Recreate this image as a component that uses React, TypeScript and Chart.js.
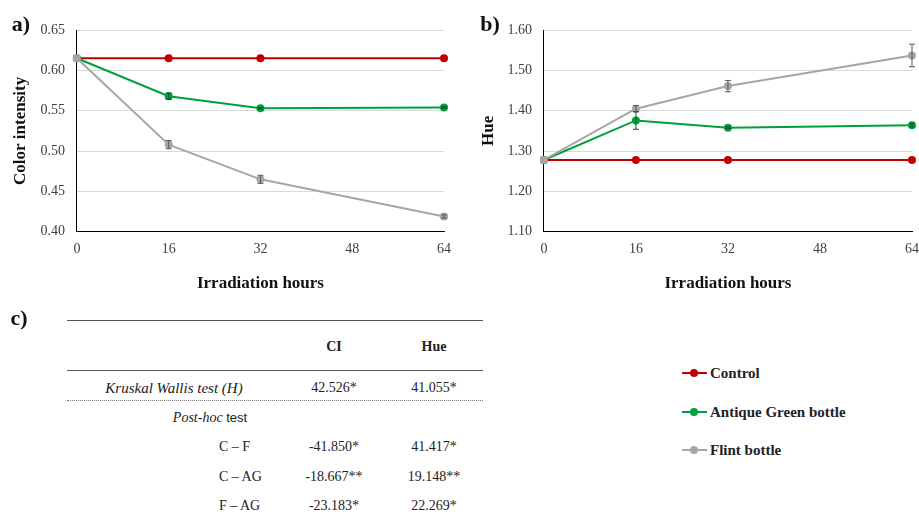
import React, { useEffect, useRef } from "react";
import { Chart, registerables } from "chart.js";

Chart.register(...registerables);

// ---------- data ----------
const hours = [0, 16, 32, 64];
const seriesNames = ["Control", "Antique Green bottle", "Flint bottle"];

const ciControl = [0.615, 0.615, 0.615, 0.615];
const ciGreen = [0.615, 0.568, 0.553, 0.554];
const ciFlint = [0.615, 0.508, 0.465, 0.419];
const ciControlErr = [0, 0, 0, 0];
const ciGreenErr = [0, 0.004, 0.001, 0.001];
const ciFlintErr = [0, 0.005, 0.005, 0.002];

const hueControl = [1.278, 1.278, 1.278, 1.278];
const hueGreen = [1.278, 1.376, 1.358, 1.364];
const hueFlint = [1.278, 1.405, 1.461, 1.537];
const hueControlErr = [0, 0, 0, 0];
const hueGreenErr = [0, 0.022, 0.002, 0.004];
const hueFlintErr = [0, 0.008, 0.014, 0.028];

const tableCols = ["CI", "Hue"];
const kwLabel = "Kruskal Wallis test (H)";
const kwValues = ["42.526*", "41.055*"];
const postHocLabels = ["C \u2013 F", "C \u2013 AG", "F \u2013 AG"];
const postHocCI = ["-41.850*", "-18.667**", "-23.183*"];
const postHocHue = ["41.417*", "19.148**", "22.269*"];

// ---------- styles ----------
const colors = ["#c00000", "#00a03c", "#a6a6a6"];
const errColors = ["#600000", "#005a22", "#595959"];
const SERIF = "'Liberation Serif', 'Times New Roman', serif";

const errorBarPlugin = {
  id: "errorBars",
  afterDatasetsDraw(chart: any) {
    const ctx = chart.ctx;
    const yScale = chart.scales.y;
    chart.data.datasets.forEach((ds: any, di: number) => {
      const errs = ds.errors;
      if (!errs) return;
      const meta = chart.getDatasetMeta(di);
      meta.data.forEach((pt: any, i: number) => {
        const e = errs[i];
        if (!e) return;
        const v = ds.data[i].y;
        const yTop = yScale.getPixelForValue(v + e);
        const yBot = yScale.getPixelForValue(v - e);
        const x = pt.x;
        ctx.save();
        ctx.strokeStyle = ds.errorColor;
        ctx.lineWidth = 1;
        ctx.beginPath();
        ctx.moveTo(x, yTop);
        ctx.lineTo(x, yBot);
        ctx.moveTo(x - 3, yTop);
        ctx.lineTo(x + 3, yTop);
        ctx.moveTo(x - 3, yBot);
        ctx.lineTo(x + 3, yBot);
        ctx.stroke();
        ctx.restore();
      });
    });
  },
};

function makeDatasets(series: number[][], errs: number[][]) {
  return series.map((vals, si) => ({
    label: seriesNames[si],
    data: hours.map((h, i) => ({ x: h, y: vals[i] })),
    errors: errs[si],
    errorColor: errColors[si],
    borderColor: colors[si],
    backgroundColor: colors[si],
    borderWidth: 2,
    pointRadius: 4,
    pointBorderWidth: 0,
    pointBackgroundColor: colors[si],
    tension: 0,
    clip: false,
    order: 2 - si,
  }));
}

function makeOptions(
  yMin: number,
  yMax: number,
  yStep: number,
  yTitle: string,
  pad: any,
  yTitlePad: any
) {
  return {
    responsive: false,
    animation: false,
    layout: { padding: pad },
    plugins: { legend: { display: false }, tooltip: { enabled: false } },
    scales: {
      x: {
        type: "linear",
        min: 0,
        max: 64,
        ticks: {
          stepSize: 16,
          padding: 9,
          color: "#404040",
          font: { family: SERIF, size: 14 },
        },
        grid: { display: true, color: "rgba(0,0,0,0)", drawTicks: false },
        border: { display: true, color: "#000", width: 1 },
        title: {
          display: true,
          text: "Irradiation hours",
          color: "#111",
          font: { family: SERIF, size: 17, weight: "bold" },
          padding: { top: 7, bottom: 4 },
        },
      },
      y: {
        type: "linear",
        min: yMin,
        max: yMax,
        ticks: {
          stepSize: yStep,
          padding: 12,
          color: "#404040",
          font: { family: SERIF, size: 14 },
          callback: (v: any) => Number(v).toFixed(2),
        },
        grid: { color: "#d9d9d9", lineWidth: 1, drawTicks: false },
        border: { display: true, color: "#000", width: 1 },
        title: {
          display: true,
          text: yTitle,
          color: "#111",
          font: { family: SERIF, size: 17, weight: "bold" },
          padding: yTitlePad,
        },
      },
    },
  };
}

function LineChart(props: { w: number; h: number; left: number; config: any }) {
  const ref = useRef<HTMLCanvasElement | null>(null);
  useEffect(() => {
    const chart = new Chart(ref.current as HTMLCanvasElement, props.config);
    return () => chart.destroy();
  }, []);
  return (
    <canvas
      ref={ref}
      width={props.w}
      height={props.h}
      style={{
        position: "absolute",
        left: props.left,
        top: 0,
        width: props.w,
        height: props.h,
      }}
    />
  );
}

function T(props: {
  x: number;
  y: number;
  align?: "center" | "left";
  style?: any;
  children: any;
}) {
  const center = (props.align || "center") === "center";
  return (
    <div
      style={{
        position: "absolute",
        left: props.x,
        top: props.y,
        transform: center ? "translate(-50%,-50%)" : "translate(0,-50%)",
        whiteSpace: "nowrap",
        lineHeight: 1,
        fontSize: 14,
        color: "#222",
        ...(props.style || {}),
      }}
    >
      {props.children}
    </div>
  );
}

export default function App() {
  const configA = {
    type: "line",
    data: {
      datasets: makeDatasets(
        [ciControl, ciGreen, ciFlint],
        [ciControlErr, ciGreenErr, ciFlintErr]
      ),
    },
    options: makeOptions(
      0.4,
      0.65,
      0.05,
      "Color intensity",
      { left: 6, right: 11, top: 30, bottom: 2 },
      { top: 4, bottom: -2 }
    ),
    plugins: [errorBarPlugin],
  };
  const configB = {
    type: "line",
    data: {
      datasets: makeDatasets(
        [hueControl, hueGreen, hueFlint],
        [hueControlErr, hueGreenErr, hueFlintErr]
      ),
    },
    options: makeOptions(
      1.1,
      1.6,
      0.1,
      "Hue",
      { left: 12, right: 7, top: 30, bottom: 2 },
      { top: 6, bottom: -3 }
    ),
    plugins: [errorBarPlugin],
  };

  const colX = [334, 434];
  const postY = [447, 477, 506];
  const legendY = [373, 412, 450];

  return (
    <div
      style={{
        position: "absolute",
        left: 0,
        top: 0,
        width: 919,
        height: 517,
        background: "#fff",
        fontFamily: SERIF,
        overflow: "hidden",
      }}
    >
      <LineChart w={460} h={300} left={0} config={configA} />
      <LineChart w={468} h={300} left={460} config={configB} />

      <T x={21} y={24} style={{ fontSize: 22, fontWeight: "bold", color: "#111" }}>
        a)
      </T>
      <T x={490} y={24} style={{ fontSize: 22, fontWeight: "bold", color: "#111" }}>
        b)
      </T>
      <T x={19} y={318} style={{ fontSize: 22, fontWeight: "bold", color: "#111" }}>
        c)
      </T>

      {/* table rules */}
      <div style={{ position: "absolute", left: 67, top: 320, width: 416, height: 0, borderTop: "1.5px solid #555" }} />
      <div style={{ position: "absolute", left: 67, top: 370, width: 416, height: 0, borderTop: "1.5px solid #555" }} />
      <div style={{ position: "absolute", left: 67, top: 400, width: 416, height: 0, borderTop: "1px dotted #777" }} />

      {tableCols.map((c, i) => (
        <T key={c} x={colX[i]} y={347} style={{ fontWeight: "bold" }}>
          {c}
        </T>
      ))}
      <T x={174} y={388} style={{ fontStyle: "italic", fontSize: 15 }}>
        {kwLabel}
      </T>
      {kwValues.map((v, i) => (
        <T key={v} x={colX[i]} y={388}>
          {v}
        </T>
      ))}
      <T x={210} y={418}>
        <span style={{ fontStyle: "italic" }}>Post-hoc</span>
        <span style={{ fontFamily: "'Liberation Sans', Arial, sans-serif", fontSize: 13 }}> test</span>
      </T>
      {postHocLabels.map((l, i) => (
        <T key={l} x={219} y={postY[i]} align="left">
          {l}
        </T>
      ))}
      {postHocCI.map((v, i) => (
        <T key={"ci" + i} x={colX[0]} y={postY[i]}>
          {v}
        </T>
      ))}
      {postHocHue.map((v, i) => (
        <T key={"hue" + i} x={colX[1]} y={postY[i]}>
          {v}
        </T>
      ))}

      {/* legend */}
      {seriesNames.map((n, i) => (
        <React.Fragment key={n}>
          <div
            style={{
              position: "absolute",
              left: 682,
              top: legendY[i] - 1,
              width: 25,
              height: 2,
              background: colors[i],
            }}
          />
          <div
            style={{
              position: "absolute",
              left: 690,
              top: legendY[i] - 4,
              width: 8,
              height: 8,
              borderRadius: 4,
              background: colors[i],
            }}
          />
          <T x={710} y={legendY[i]} align="left" style={{ fontWeight: "bold", fontSize: 15, color: "#222" }}>
            {n}
          </T>
        </React.Fragment>
      ))}
    </div>
  );
}
